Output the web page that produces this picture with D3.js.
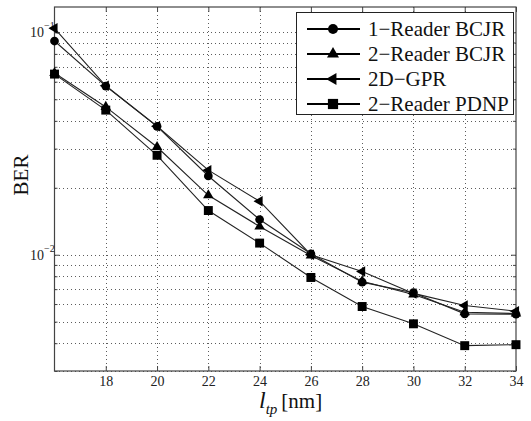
<!DOCTYPE html>
<html><head><meta charset="utf-8">
<script src="https://d3js.org/d3.v7.min.js"></script>
<style>body{margin:0;background:#fff}svg{display:block}</style>
</head><body>
<svg id="c" width="531" height="421"></svg>
<script>
const xVals = [16, 18, 20, 22, 24, 26, 28, 30, 32, 34];
const seriesNames = ["1\u2212Reader BCJR", "2\u2212Reader BCJR", "2D\u2212GPR", "2\u2212Reader PDNP"];
const reader1BCJR = [0.0914, 0.0573, 0.0378, 0.0226, 0.0144, 0.0101, 0.00753, 0.00675, 0.00542, 0.0054];
const reader2BCJR = [0.0656, 0.0462, 0.0305, 0.0185, 0.0134, 0.00993, 0.0076, 0.00662, 0.00551, 0.00544];
const gpr2D = [0.1042, 0.0575, 0.0378, 0.0240, 0.0174, 0.0100, 0.00841, 0.0067, 0.00591, 0.00557];
const reader2PDNP = [0.0649, 0.0447, 0.0280, 0.0158, 0.01128, 0.0079, 0.00585, 0.00489, 0.0039, 0.00394];
const xTicks = [18, 20, 22, 24, 26, 28, 30, 32, 34];
const yMajor = [0.01, 0.1];
const yMajorExp = ["\u22122", "\u22121"];
const yMinor = [0.003, 0.004, 0.005, 0.006, 0.007, 0.008, 0.009, 0.02, 0.03, 0.04, 0.05, 0.06, 0.07, 0.08, 0.09];

const svg = d3.select("#c");
const L = 54.5, R = 516, T = 7, B = 371;
const x = d3.scaleLinear().domain([16, 34]).range([L, R]);
const y = d3.scaleLog().domain([0.003, 0.13]).range([B, T]);
const serif = "'Liberation Serif','Times New Roman',serif";

// grid
const g = svg.append("g");
const gridStyle = s => s.attr("stroke", "#333").attr("stroke-width", 0.8).attr("stroke-dasharray", "1,3").attr("shape-rendering", "crispEdges");
g.selectAll(".gx").data(xTicks.slice(0, -1)).join("line")
  .attr("x1", d => Math.round(x(d)) + 0.5).attr("x2", d => Math.round(x(d)) + 0.5)
  .attr("y1", T).attr("y2", B).call(gridStyle);
g.selectAll(".gy").data(yMajor.concat(yMinor)).join("line")
  .attr("y1", d => Math.round(y(d)) + 0.5).attr("y2", d => Math.round(y(d)) + 0.5)
  .attr("x1", L).attr("x2", R).call(gridStyle);

// axes box
const axCol = "#444";
svg.append("rect").attr("x", L).attr("y", T).attr("width", R - L).attr("height", B - T)
  .attr("fill", "none").attr("stroke", axCol).attr("stroke-width", 1.2);

// ticks (inside)
const xb = svg.append("g").attr("transform", `translate(0,${B})`)
  .call(d3.axisBottom(x).tickValues(xTicks).tickSizeInner(-5).tickSizeOuter(0).tickPadding(5));
xb.select(".domain").remove();
xb.selectAll("line").attr("stroke", axCol);
xb.selectAll("text").attr("font-family", serif).attr("font-size", 14).attr("fill", "#222");
const xt = svg.append("g").attr("transform", `translate(0,${T})`)
  .call(d3.axisTop(x).tickValues(xTicks).tickSizeInner(-5).tickSizeOuter(0).tickFormat(""));
xt.select(".domain").remove();
xt.selectAll("line").attr("stroke", axCol);

const yl = svg.append("g").attr("transform", `translate(${L},0)`)
  .call(d3.axisLeft(y).tickValues(yMajor.concat(yMinor)).tickSizeInner(-3).tickSizeOuter(0).tickFormat(""));
yl.select(".domain").remove();
yl.selectAll("line").attr("stroke", axCol);
const yr = svg.append("g").attr("transform", `translate(${R},0)`)
  .call(d3.axisRight(y).tickValues(yMajor.concat(yMinor)).tickSizeInner(-3).tickSizeOuter(0).tickFormat(""));
yr.select(".domain").remove();
yr.selectAll("line").attr("stroke", axCol);
[yl, yr].forEach((a, i) => a.selectAll(".tick").filter(d => yMajor.includes(d)).select("line").attr("x2", i === 0 ? 5 : -5));

// y major labels 10^-n
yMajor.forEach((v, i) => {
  svg.append("text").attr("x", 44).attr("y", y(v) + 5).attr("text-anchor", "end")
    .attr("font-family", serif).attr("font-size", 14).attr("fill", "#222").text("10");
  svg.append("text").attr("x", 44).attr("y", y(v) - 3).attr("font-family", serif).attr("font-size", 10).attr("fill", "#222").text(yMajorExp[i]);
});

// axis labels
svg.append("text").attr("transform", `translate(28,${(T + B) / 2 - 14}) rotate(-90)`).attr("text-anchor", "middle")
  .attr("font-family", serif).attr("font-size", 21).attr("fill", "#111").text("BER");
const xl = svg.append("text").attr("x", 259).attr("y", 408).attr("font-family", serif).attr("font-size", 21).attr("fill", "#111");
xl.append("tspan").attr("font-style", "italic").attr("font-size", 24).text("l");
xl.append("tspan").attr("font-style", "italic").attr("font-size", 15).attr("dy", 6).text("tp");
xl.append("tspan").attr("dy", -6).attr("dx", 4).text("[nm]");

// series
const allSeries = [reader1BCJR, reader2BCJR, gpr2D, reader2PDNP];
const symbols = [
  { type: d3.symbolCircle, size: 60, rot: 0 },
  { type: d3.symbolTriangle, size: 48, rot: 0 },
  { type: d3.symbolTriangle, size: 48, rot: -90 },
  { type: d3.symbolSquare, size: 80, rot: 0 }
];
const line = d3.line().x((d, i) => x(xVals[i])).y(d => y(d));
allSeries.forEach((s, k) => {
  const gg = svg.append("g");
  gg.append("path").attr("d", line(s)).attr("fill", "none").attr("stroke", "#222").attr("stroke-width", 1.1);
  gg.selectAll("path.m").data(s).join("path").attr("class", "m")
    .attr("d", d3.symbol().type(symbols[k].type).size(symbols[k].size))
    .attr("transform", (d, i) => `translate(${x(xVals[i])},${y(d)}) rotate(${symbols[k].rot})`)
    .attr("fill", "#000");
});

// legend
const lg = svg.append("g");
lg.append("rect").attr("x", 296.5).attr("y", 12.5).attr("width", 217).attr("height", 102)
  .attr("fill", "#fff").attr("stroke", "#222").attr("stroke-width", 1);
seriesNames.forEach((n, k) => {
  const cy = 29 + k * 25;
  lg.append("line").attr("x1", 307).attr("x2", 360).attr("y1", cy).attr("y2", cy).attr("stroke", "#000").attr("stroke-width", 2.2);
  lg.append("path").attr("d", d3.symbol().type(symbols[k].type).size(symbols[k].size * 1.3))
    .attr("transform", `translate(333,${cy}) rotate(${symbols[k].rot})`).attr("fill", "#000");
  lg.append("text").attr("x", 368).attr("y", cy + 7).attr("font-family", serif).attr("font-size", 21).attr("fill", "#111").text(n);
});
</script>
</body></html>
